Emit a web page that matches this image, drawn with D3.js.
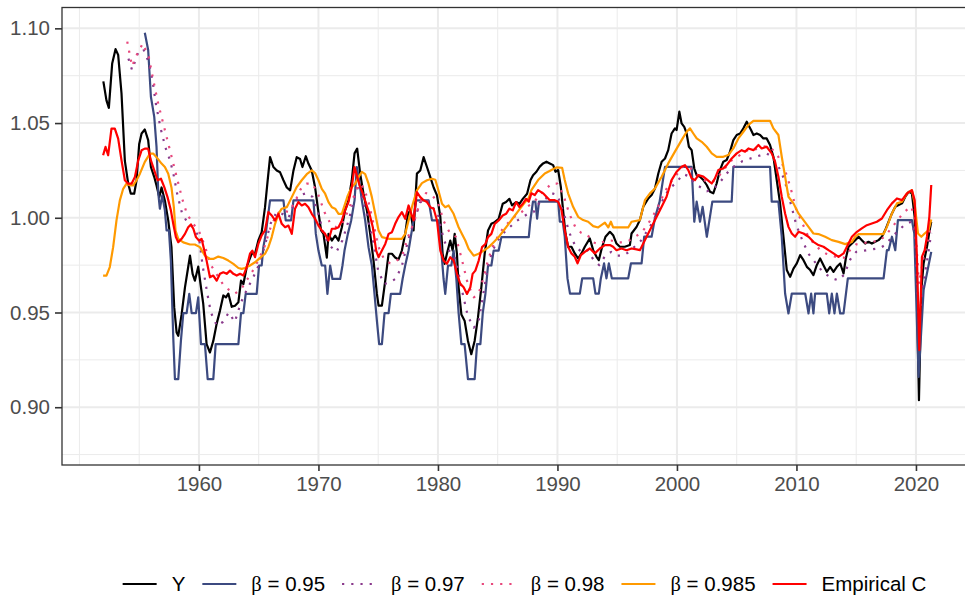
<!DOCTYPE html>
<meta charset="utf-8">
<script src="https://d3js.org/d3.v7.min.js"></script>
<style>
  body { margin: 0; background: #fff; }
  svg { display: block; font-family: "Liberation Sans", Arial, sans-serif; }
</style>
<div id="chart"></div>
<script>

// ---- data ----
const seriesNames = ["Y", "β = 0.95", "β = 0.97", "β = 0.98", "β = 0.985", "Empirical C"];
const seriesColors = ["#000000", "#3C4A80", "#8A3A8C", "#E8487C", "#FF9A00", "#FF0000"];
const seriesDotted = [false, false, true, true, false, false];

const xTicks = [1960, 1970, 1980, 1990, 2000, 2010, 2020];
const xMinor = [1950, 1955, 1965, 1975, 1985, 1995, 2005, 2015];
const yTicks = [0.90, 0.95, 1.00, 1.05, 1.10];
const yMinor = [0.875, 0.925, 0.975, 1.025, 1.075];

const yVals = [[1952.0,1.072],[1952.26,1.062],[1952.46,1.058],[1952.74,1.0815],[1953.02,1.089],[1953.24,1.086],[1953.52,1.0656],[1953.8,1.030],[1954.08,1.018],[1954.3,1.0127],[1954.58,1.0127],[1954.78,1.0198],[1955.0,1.039],[1955.2,1.0445],[1955.47,1.0466],[1955.75,1.041],[1955.98,1.0268],[1956.26,1.0215],[1956.45,1.017],[1956.68,1.011],[1956.87,1.016],[1957.15,1.009],[1957.43,0.9986],[1957.7,0.9845],[1957.93,0.9527],[1958.13,0.9395],[1958.27,0.9377],[1958.55,0.949],[1958.83,0.9633],[1959.1,0.974],[1959.25,0.980],[1959.47,0.9704],[1959.66,0.9668],[1959.94,0.9742],[1960.17,0.9633],[1960.36,0.9545],[1960.64,0.9333],[1960.92,0.9289],[1961.2,0.935],[1961.48,0.944],[1961.76,0.951],[1962.04,0.959],[1962.26,0.958],[1962.46,0.960],[1962.74,0.953],[1963.02,0.9536],[1963.3,0.9554],[1963.52,0.9668],[1963.72,0.965],[1964.0,0.974],[1964.19,0.9774],[1964.41,0.981],[1964.69,0.981],[1964.97,0.988],[1965.25,0.9924],[1965.53,1.0056],[1965.75,1.0198],[1965.95,1.032],[1966.23,1.0268],[1966.51,1.025],[1966.79,1.024],[1967.07,1.0198],[1967.35,1.016],[1967.63,1.0145],[1967.91,1.025],[1968.18,1.032],[1968.46,1.031],[1968.66,1.0268],[1968.94,1.0325],[1969.16,1.0286],[1969.44,1.025],[1969.72,1.016],[1969.94,1.0056],[1970.22,0.9933],[1970.42,0.9915],[1970.7,0.979],[1970.84,0.9915],[1971.12,0.988],[1971.4,0.9906],[1971.68,0.988],[1971.96,0.995],[1972.23,1.004],[1972.51,1.009],[1972.79,1.0198],[1973.02,1.034],[1973.24,1.0365],[1973.49,1.0233],[1973.77,1.0127],[1974.05,1.004],[1974.33,0.9915],[1974.61,0.9774],[1974.89,0.9598],[1975.03,0.9536],[1975.31,0.9536],[1975.59,0.9668],[1975.87,0.981],[1976.15,0.981],[1976.42,0.979],[1976.7,0.978],[1976.98,0.9827],[1977.26,0.9915],[1977.49,1.002],[1977.68,1.004],[1977.96,0.9933],[1978.24,1.0233],[1978.52,1.025],[1978.8,1.032],[1979.08,1.0268],[1979.36,1.0215],[1979.64,1.016],[1979.92,1.0118],[1980.2,1.0004],[1980.39,0.981],[1980.56,0.9757],[1980.75,0.981],[1981.03,0.988],[1981.23,0.9827],[1981.4,0.9915],[1981.59,0.981],[1981.73,0.9633],[1981.96,0.949],[1982.23,0.9457],[1982.51,0.935],[1982.79,0.928],[1983.07,0.935],[1983.35,0.9474],[1983.63,0.9633],[1983.91,0.981],[1984.19,0.9933],[1984.47,0.9968],[1984.75,0.9977],[1985.08,0.9995],[1985.42,1.0074],[1985.7,1.0083],[1985.98,1.010],[1986.2,1.0065],[1986.54,1.0083],[1986.82,1.0074],[1987.1,1.010],[1987.46,1.0127],[1987.74,1.0198],[1987.96,1.0225],[1988.24,1.0243],[1988.52,1.027],[1988.8,1.0287],[1989.08,1.0296],[1989.36,1.0287],[1989.64,1.0278],[1989.83,1.0243],[1990.06,1.0252],[1990.28,1.0164],[1990.47,1.004],[1990.67,0.9917],[1990.89,0.9847],[1991.17,0.9847],[1991.45,0.9812],[1991.73,0.9785],[1992.01,0.9812],[1992.29,0.9847],[1992.71,0.9891],[1992.99,0.9829],[1993.27,0.9794],[1993.46,0.9776],[1993.74,0.9847],[1994.02,0.99],[1994.39,0.9926],[1994.66,0.9908],[1994.94,0.9864],[1995.22,0.9847],[1995.64,0.9847],[1996.06,0.9856],[1996.2,0.9917],[1996.62,0.9952],[1996.9,0.9988],[1997.18,1.0058],[1997.6,1.0102],[1997.88,1.012],[1998.16,1.0155],[1998.44,1.0234],[1998.72,1.0296],[1999.0,1.0313],[1999.27,1.0357],[1999.55,1.0445],[1999.83,1.0472],[1999.97,1.0463],[2000.2,1.056],[2000.39,1.0498],[2000.61,1.048],[2000.81,1.0445],[2001.0,1.0375],[2001.23,1.0357],[2001.45,1.026],[2001.65,1.0225],[2001.93,1.0217],[2002.21,1.0199],[2002.49,1.0173],[2002.77,1.0137],[2003.04,1.0129],[2003.32,1.0181],[2003.6,1.0252],[2003.88,1.0296],[2004.16,1.0305],[2004.44,1.0349],[2004.72,1.041],[2005.0,1.0437],[2005.28,1.0445],[2005.56,1.0472],[2005.84,1.0507],[2005.98,1.049],[2006.2,1.0463],[2006.4,1.0437],[2006.68,1.0445],[2006.96,1.0437],[2007.23,1.0419],[2007.51,1.0419],[2007.79,1.0384],[2008.07,1.0322],[2008.35,1.0199],[2008.63,1.0076],[2008.91,0.99],[2009.19,0.9724],[2009.47,0.9688],[2009.75,0.9732],[2010.03,0.9759],[2010.31,0.9803],[2010.59,0.9776],[2010.87,0.9741],[2011.15,0.9724],[2011.42,0.9697],[2011.7,0.975],[2011.98,0.9785],[2012.26,0.975],[2012.54,0.9715],[2012.82,0.9741],[2013.1,0.9715],[2013.38,0.9741],[2013.66,0.9759],[2013.94,0.9706],[2014.13,0.9785],[2014.36,0.9847],[2014.64,0.9864],[2014.92,0.9882],[2015.2,0.99],[2015.47,0.9882],[2015.75,0.9864],[2016.03,0.9873],[2016.31,0.9864],[2016.59,0.9873],[2016.87,0.9882],[2017.15,0.99],[2017.43,0.9935],[2017.71,0.9979],[2017.99,1.0023],[2018.27,1.0058],[2018.55,1.0067],[2018.83,1.0076],[2019.11,1.0111],[2019.39,1.0137],[2019.66,1.0129],[2019.89,1.0005],[2020.08,0.9618],[2020.25,0.9037],[2020.45,0.9618],[2020.64,0.9759],[2020.92,0.9847],[2021.12,0.9926],[2021.28,0.9979]];

const b950Vals = [[1955.47,1.0977],[1955.75,1.0886],[1955.98,1.0639],[1956.26,1.0533],[1956.45,1.0374],[1956.6,1.0127],[1956.73,1.0048],[1956.93,1.0118],[1957.15,1.0039],[1957.29,0.9933],[1957.49,0.9933],[1957.65,0.9774],[1957.85,0.9368],[1957.99,0.9148],[1958.27,0.9148],[1958.49,0.935],[1958.69,0.9497],[1958.97,0.9497],[1959.19,0.9598],[1959.39,0.9497],[1959.75,0.9497],[1959.94,0.958],[1960.17,0.9333],[1960.5,0.9333],[1960.73,0.9148],[1961.2,0.9148],[1961.4,0.9333],[1963.3,0.9333],[1963.52,0.9497],[1963.72,0.9497],[1963.91,0.9598],[1964.83,0.9598],[1965.03,0.9748],[1965.25,0.9748],[1965.39,0.9845],[1965.59,0.9915],[1965.75,0.9995],[1965.95,1.0092],[1967.07,1.0092],[1967.26,0.9986],[1967.71,0.9986],[1967.91,1.0092],[1969.58,1.0092],[1969.78,0.9915],[1970.0,0.9827],[1970.28,0.9748],[1970.56,0.9748],[1970.75,0.9598],[1970.98,0.9748],[1971.17,0.9677],[1971.82,0.9677],[1972.01,0.9748],[1972.18,0.9827],[1972.46,0.9915],[1972.74,0.9986],[1973.02,1.0092],[1973.21,1.0268],[1973.41,1.0198],[1973.63,1.0092],[1973.91,0.9986],[1974.19,0.9845],[1974.47,0.9748],[1974.69,0.9598],[1974.89,0.9457],[1975.08,0.9333],[1975.31,0.9333],[1975.53,0.9497],[1975.87,0.9497],[1976.06,0.9598],[1976.84,0.9598],[1977.04,0.9677],[1977.26,0.9748],[1977.54,0.9827],[1977.77,0.9915],[1977.96,0.9986],[1978.18,1.0092],[1979.22,1.0092],[1979.5,0.9986],[1980.06,0.9986],[1980.28,0.9827],[1980.47,0.9677],[1980.61,0.9598],[1980.84,0.9748],[1981.12,0.9748],[1981.31,0.9827],[1981.54,0.9677],[1981.73,0.9497],[1981.96,0.9333],[1982.23,0.9333],[1982.51,0.9148],[1983.07,0.9148],[1983.27,0.9333],[1983.55,0.9333],[1983.75,0.9497],[1983.97,0.9598],[1984.19,0.9748],[1984.47,0.9748],[1984.66,0.9827],[1985.08,0.9827],[1985.31,0.9898],[1987.6,0.9898],[1987.72,0.9979],[1987.95,1.0085],[1988.15,1.0085],[1988.3,0.9996],[1988.45,1.0085],[1990.06,1.0085],[1990.2,0.9979],[1990.45,0.9979],[1990.61,0.990],[1990.84,0.968],[1991.05,0.960],[1991.87,0.960],[1992.07,0.968],[1992.99,0.968],[1993.18,0.960],[1993.46,0.960],[1993.63,0.968],[1993.9,0.9759],[1994.1,0.968],[1994.3,0.9759],[1994.55,0.968],[1995.92,0.968],[1996.15,0.9759],[1997.04,0.9759],[1997.26,0.990],[1997.88,0.990],[1998.16,1.000],[1998.55,1.0085],[1999.0,1.0269],[2001.23,1.0269],[2001.45,0.9979],[2001.65,1.0085],[2001.93,0.9979],[2002.15,1.0058],[2002.5,0.990],[2002.96,1.0085],[2004.58,1.0085],[2004.72,1.0269],[2007.79,1.0269],[2007.93,1.0085],[2008.49,1.0085],[2008.77,0.990],[2009.05,0.960],[2009.33,0.9495],[2009.61,0.960],[2010.73,0.960],[2011.01,0.9495],[2011.23,0.960],[2011.42,0.9495],[2011.56,0.960],[2012.54,0.960],[2012.74,0.9495],[2012.96,0.960],[2013.18,0.9495],[2013.38,0.960],[2013.66,0.9495],[2013.94,0.9495],[2014.3,0.968],[2017.29,0.968],[2017.57,0.9829],[2017.71,0.9829],[2017.99,0.990],[2018.27,0.9829],[2018.49,0.9988],[2019.66,0.9988],[2019.86,0.9917],[2020.22,0.916],[2020.64,0.9618],[2021.28,0.982]];

const b970Vals = [[1954.1,1.084],[1954.4,1.078],[1954.9,1.087],[1955.35,1.089],[1955.8,1.082],[1956.1,1.073],[1956.4,1.060],[1956.8,1.047],[1957.2,1.037],[1957.6,1.030],[1957.9,1.022],[1958.2,1.012],[1958.6,1.002],[1959.0,0.998],[1959.5,0.995],[1960.0,0.990],[1960.3,0.975],[1960.7,0.960],[1961.0,0.950],[1961.5,0.943],[1962.0,0.945],[1962.5,0.950],[1963.0,0.945],[1963.5,0.955],[1964.0,0.962],[1964.5,0.968],[1965.0,0.975],[1965.5,0.985],[1966.0,0.997],[1966.5,1.003],[1967.0,1.002],[1967.5,1.000],[1968.0,1.008],[1968.5,1.012],[1969.0,1.013],[1969.5,1.011],[1970.0,1.002],[1970.5,0.990],[1971.0,0.985],[1971.5,0.982],[1972.0,0.988],[1972.5,0.998],[1973.0,1.010],[1973.3,1.018],[1973.6,1.012],[1974.0,1.003],[1974.5,0.990],[1975.0,0.972],[1975.5,0.965],[1976.0,0.966],[1976.5,0.968],[1977.0,0.975],[1977.5,0.988],[1978.0,0.998],[1978.5,1.008],[1979.0,1.010],[1979.5,1.006],[1980.0,1.002],[1980.5,0.988],[1981.0,0.982],[1981.5,0.978],[1982.0,0.962],[1982.5,0.948],[1983.0,0.942],[1983.4,0.945],[1983.8,0.960],[1984.2,0.975],[1984.6,0.983],[1985.0,0.988],[1985.5,0.992],[1986.0,0.995],[1986.5,0.998],[1987.0,1.000],[1987.5,1.002],[1988.0,1.003],[1988.5,1.008],[1989.0,1.010],[1989.5,1.013],[1990.0,1.012],[1990.5,1.003],[1991.0,0.992],[1991.5,0.985],[1992.0,0.982],[1992.5,0.983],[1993.0,0.978],[1993.5,0.975],[1994.0,0.980],[1994.5,0.982],[1995.0,0.980],[1995.5,0.980],[1996.0,0.982],[1996.5,0.985],[1997.0,0.988],[1997.5,0.993],[1998.0,0.998],[1998.5,1.005],[1999.0,1.012],[1999.5,1.016],[2000.0,1.019],[2000.5,1.023],[2001.0,1.022],[2001.5,1.018],[2002.0,1.016],[2002.5,1.014],[2003.0,1.015],[2003.5,1.018],[2004.0,1.022],[2004.5,1.026],[2005.0,1.028],[2005.5,1.030],[2006.0,1.031],[2006.5,1.032],[2007.0,1.033],[2007.5,1.034],[2008.0,1.032],[2008.5,1.027],[2009.0,1.020],[2009.5,1.008],[2010.0,0.996],[2010.5,0.988],[2011.0,0.981],[2011.5,0.977],[2012.0,0.973],[2012.5,0.970],[2013.0,0.968],[2013.5,0.967],[2014.0,0.970],[2014.5,0.978],[2015.0,0.982],[2016.0,0.983],[2017.0,0.984],[2017.5,0.986],[2018.0,0.990],[2018.5,0.993],[2019.0,0.996],[2019.6,0.998],[2019.9,0.992],[2020.25,0.945],[2020.6,0.965],[2021.0,0.980],[2021.28,0.992]];

const b980Vals = [[1954.0,1.093],[1954.4,1.080],[1954.8,1.086],[1955.3,1.092],[1955.8,1.085],[1956.2,1.072],[1956.6,1.060],[1957.0,1.050],[1957.4,1.040],[1957.8,1.030],[1958.2,1.020],[1958.6,1.010],[1959.0,1.002],[1959.5,0.997],[1960.0,0.993],[1960.5,0.985],[1961.0,0.975],[1961.5,0.970],[1962.0,0.965],[1962.5,0.962],[1963.0,0.960],[1963.5,0.962],[1964.0,0.967],[1964.5,0.972],[1965.0,0.978],[1965.5,0.985],[1966.0,0.995],[1966.5,1.002],[1967.0,1.004],[1967.5,1.003],[1968.0,1.008],[1968.5,1.015],[1969.0,1.018],[1969.5,1.018],[1970.0,1.012],[1970.5,1.003],[1971.0,0.997],[1971.5,0.995],[1972.0,0.997],[1972.5,1.004],[1973.0,1.012],[1973.4,1.018],[1973.8,1.016],[1974.2,1.008],[1974.6,0.997],[1975.0,0.985],[1975.5,0.978],[1976.0,0.976],[1976.5,0.977],[1977.0,0.980],[1977.5,0.990],[1978.0,0.998],[1978.5,1.008],[1979.0,1.013],[1979.5,1.012],[1980.0,1.008],[1980.5,0.998],[1981.0,0.992],[1981.5,0.990],[1982.0,0.978],[1982.5,0.965],[1983.0,0.958],[1983.4,0.960],[1983.8,0.968],[1984.2,0.978],[1984.6,0.985],[1985.0,0.990],[1985.5,0.995],[1986.0,0.998],[1986.5,1.001],[1987.0,1.003],[1987.5,1.006],[1988.0,1.008],[1988.5,1.012],[1989.0,1.015],[1989.5,1.018],[1990.0,1.018],[1990.5,1.012],[1991.0,1.002],[1991.5,0.995],[1992.0,0.992],[1992.5,0.991],[1993.0,0.987],[1993.5,0.986],[1994.0,0.988],[1994.5,0.988],[1995.0,0.987],[1995.5,0.987],[1996.0,0.988],[1996.5,0.990],[1997.0,0.992],[1997.5,0.996],[1998.0,1.001],[1998.5,1.007],[1999.0,1.014],[1999.5,1.019],[2000.0,1.023],[2000.5,1.027],[2001.0,1.027],[2001.5,1.024],[2002.0,1.021],[2002.5,1.019],[2003.0,1.019],[2003.5,1.022],[2004.0,1.026],[2004.5,1.030],[2005.0,1.032],[2005.5,1.034],[2006.0,1.036],[2006.5,1.036],[2007.0,1.037],[2007.5,1.038],[2008.0,1.036],[2008.5,1.032],[2009.0,1.026],[2009.5,1.016],[2010.0,1.004],[2010.5,0.997],[2011.0,0.990],[2011.5,0.986],[2012.0,0.983],[2012.5,0.981],[2013.0,0.980],[2013.5,0.979],[2014.0,0.979],[2014.5,0.983],[2015.0,0.986],[2016.0,0.987],[2017.0,0.988],[2017.5,0.991],[2018.0,0.995],[2018.5,0.999],[2019.0,1.003],[2019.6,1.006],[2019.9,1.000],[2020.25,0.965],[2020.6,0.978],[2021.0,0.988],[2021.28,0.997]];

const b985Vals = [[1951.98,0.9695],[1952.26,0.9695],[1952.54,0.974],[1952.82,0.9845],[1953.1,0.9986],[1953.38,1.0092],[1953.66,1.0153],[1953.94,1.018],[1954.22,1.0171],[1954.5,1.0171],[1954.78,1.0198],[1955.06,1.0233],[1955.47,1.0295],[1955.9,1.0339],[1956.17,1.0339],[1956.45,1.032],[1956.87,1.0286],[1957.15,1.0268],[1957.43,1.0233],[1957.7,1.016],[1957.9,1.0056],[1958.04,0.9933],[1958.27,0.9889],[1958.69,0.987],[1959.25,0.9859],[1959.66,0.9859],[1960.08,0.9845],[1960.5,0.980],[1960.92,0.9783],[1961.2,0.9783],[1961.62,0.9795],[1962.04,0.9788],[1962.46,0.9774],[1962.88,0.9757],[1963.3,0.9735],[1963.58,0.973],[1963.85,0.9735],[1964.27,0.9748],[1964.69,0.9765],[1965.11,0.9788],[1965.53,0.981],[1965.81,0.9845],[1966.09,0.9898],[1966.37,0.9968],[1966.65,1.0021],[1966.93,1.0048],[1967.35,1.0056],[1967.77,1.0109],[1968.18,1.0162],[1968.6,1.0198],[1969.02,1.023],[1969.44,1.025],[1969.72,1.0236],[1970.0,1.0198],[1970.28,1.0153],[1970.56,1.0127],[1970.84,1.0083],[1971.12,1.0056],[1971.4,1.0048],[1971.68,1.0021],[1971.96,1.0021],[1972.18,1.0065],[1972.46,1.0118],[1972.79,1.0162],[1973.07,1.018],[1973.35,1.0215],[1973.63,1.0242],[1973.91,1.023],[1974.19,1.018],[1974.47,1.0109],[1974.75,1.0021],[1975.03,0.9933],[1975.31,0.9898],[1975.87,0.9889],[1976.42,0.9889],[1976.98,0.9889],[1977.26,0.9915],[1977.54,0.9986],[1977.82,1.0056],[1978.24,1.0145],[1978.66,1.0183],[1979.08,1.0198],[1979.5,1.0206],[1979.78,1.0201],[1980.0,1.0153],[1980.34,1.0074],[1980.61,1.0056],[1980.89,1.0065],[1981.31,1.0021],[1981.73,0.995],[1982.01,0.9915],[1982.29,0.988],[1982.57,0.9836],[1982.99,0.980],[1983.41,0.981],[1983.83,0.9827],[1984.25,0.9845],[1984.66,0.9871],[1985.08,0.9898],[1985.5,0.9933],[1985.92,0.9968],[1986.34,1.0004],[1986.76,1.0039],[1987.18,1.0074],[1987.6,1.0105],[1987.82,1.0146],[1988.38,1.0199],[1988.94,1.0234],[1989.5,1.0252],[1989.92,1.0266],[1990.39,1.0264],[1990.61,1.0199],[1990.89,1.0129],[1991.31,1.0058],[1991.73,1.0005],[1992.15,0.9988],[1992.57,0.9979],[1992.99,0.9956],[1993.41,0.9949],[1993.97,0.9974],[1994.25,0.9949],[1994.47,0.9979],[1994.66,0.9949],[1995.08,0.9949],[1995.92,0.9949],[1996.2,0.9979],[1996.9,0.9988],[1997.32,1.0093],[1997.74,1.0129],[1998.16,1.0155],[1998.72,1.0217],[1999.27,1.0287],[1999.83,1.0349],[2000.39,1.041],[2000.81,1.0454],[2001.09,1.0472],[2001.37,1.0445],[2001.65,1.0419],[2002.07,1.0401],[2002.49,1.0375],[2002.91,1.034],[2003.32,1.0322],[2003.88,1.0322],[2004.3,1.0331],[2004.72,1.0366],[2005.14,1.0419],[2005.56,1.0454],[2005.98,1.049],[2006.4,1.0512],[2007.79,1.0512],[2008.07,1.0472],[2008.49,1.0437],[2008.77,1.0322],[2009.05,1.0217],[2009.33,1.0111],[2009.75,1.0076],[2010.17,1.0023],[2010.59,0.9988],[2011.01,0.9952],[2011.42,0.9917],[2011.84,0.9914],[2012.4,0.99],[2012.96,0.9882],[2013.52,0.9873],[2014.08,0.9861],[2014.64,0.9873],[2014.92,0.99],[2015.2,0.9914],[2017.29,0.9914],[2017.57,0.9952],[2017.99,1.0023],[2018.41,1.0076],[2018.83,1.0085],[2019.25,1.0129],[2019.66,1.0146],[2019.89,1.0076],[2020.17,0.9917],[2020.45,0.990],[2020.73,0.9917],[2021.06,0.9935],[2021.28,0.9991]];

const empVals = [[1951.98,1.033],[1952.18,1.0374],[1952.4,1.033],[1952.68,1.0471],[1952.96,1.0471],[1953.24,1.0418],[1953.52,1.0303],[1953.8,1.0198],[1954.08,1.018],[1954.36,1.018],[1954.64,1.0215],[1954.92,1.0303],[1955.2,1.0356],[1955.47,1.0365],[1955.75,1.0365],[1955.98,1.0303],[1956.26,1.025],[1956.54,1.0198],[1956.82,1.0206],[1957.1,1.0162],[1957.37,1.0109],[1957.65,1.0039],[1957.85,0.9968],[1958.07,0.9898],[1958.27,0.9871],[1958.55,0.9889],[1958.83,0.9915],[1959.1,0.995],[1959.33,0.9965],[1959.53,0.9942],[1959.75,0.9898],[1960.0,0.988],[1960.22,0.9889],[1960.45,0.9827],[1960.64,0.9774],[1960.92,0.9686],[1961.2,0.9695],[1961.48,0.9668],[1961.76,0.9704],[1962.04,0.9712],[1962.32,0.9704],[1962.6,0.9721],[1962.88,0.9704],[1963.16,0.9695],[1963.44,0.9704],[1963.72,0.9695],[1964.0,0.974],[1964.27,0.981],[1964.47,0.9827],[1964.69,0.9792],[1964.97,0.9862],[1965.25,0.9907],[1965.53,0.9933],[1965.81,1.003],[1966.09,1.0012],[1966.37,0.9986],[1966.65,1.0021],[1966.93,0.9968],[1967.21,0.995],[1967.49,0.9959],[1967.77,0.9915],[1968.04,1.0048],[1968.32,1.0083],[1968.6,1.0065],[1968.88,1.0074],[1969.16,1.0056],[1969.44,1.0021],[1969.72,0.9995],[1970.0,0.9959],[1970.28,0.9933],[1970.56,0.9915],[1970.84,0.988],[1971.12,0.9942],[1971.4,0.9942],[1971.68,0.995],[1971.96,0.9986],[1972.23,1.0039],[1972.51,1.0083],[1972.79,1.0162],[1973.02,1.0268],[1973.21,1.0224],[1973.44,1.0171],[1973.72,1.0127],[1973.99,1.0074],[1974.27,1.0021],[1974.55,0.995],[1974.83,0.9827],[1975.03,0.9792],[1975.31,0.9827],[1975.59,0.9862],[1975.87,0.9915],[1976.15,0.9924],[1976.42,0.9968],[1976.7,1.0004],[1976.98,1.003],[1977.26,0.9995],[1977.54,1.0065],[1977.77,1.0021],[1977.96,0.9986],[1978.24,1.0136],[1978.52,1.0109],[1978.8,1.0092],[1979.08,1.0083],[1979.36,1.0056],[1979.64,1.0048],[1979.92,0.9986],[1980.2,0.9827],[1980.47,0.9774],[1980.75,0.9757],[1981.03,0.9792],[1981.31,0.9774],[1981.59,0.9704],[1981.87,0.9651],[1982.15,0.9633],[1982.43,0.9598],[1982.71,0.9633],[1982.9,0.9704],[1983.13,0.9721],[1983.41,0.9774],[1983.69,0.9845],[1983.97,0.9862],[1984.19,0.9898],[1984.47,0.9915],[1984.75,0.9968],[1985.08,0.9986],[1985.42,1.0012],[1985.7,1.0021],[1985.98,1.0048],[1986.26,1.0039],[1986.54,1.0083],[1986.82,1.0056],[1987.1,1.0074],[1987.37,1.010],[1987.6,1.0085],[1987.82,1.0129],[1988.1,1.012],[1988.38,1.0146],[1988.8,1.0129],[1989.08,1.0111],[1989.36,1.0093],[1989.78,1.0093],[1990.06,1.0085],[1990.34,1.004],[1990.61,0.9935],[1990.89,0.9847],[1991.17,0.9812],[1991.45,0.9794],[1991.68,0.9759],[1991.96,0.9803],[1992.29,0.982],[1992.71,0.9838],[1993.13,0.9812],[1993.55,0.9838],[1993.97,0.9856],[1994.39,0.9856],[1994.66,0.9847],[1994.94,0.9829],[1995.36,0.9838],[1995.78,0.9829],[1996.2,0.9838],[1996.62,0.9833],[1996.9,0.9829],[1997.18,0.9864],[1997.46,0.99],[1997.88,0.9952],[1998.3,1.0005],[1998.72,1.0058],[1999.13,1.0111],[1999.55,1.0199],[1999.97,1.0243],[2000.39,1.0269],[2000.67,1.0278],[2000.95,1.0252],[2001.23,1.0208],[2001.51,1.0199],[2001.79,1.0225],[2002.21,1.0217],[2002.57,1.0199],[2002.91,1.0181],[2003.18,1.0208],[2003.46,1.0252],[2003.88,1.0261],[2004.16,1.0278],[2004.58,1.0313],[2005.0,1.034],[2005.42,1.0357],[2005.7,1.0349],[2005.98,1.0366],[2006.4,1.0357],[2006.82,1.0384],[2007.09,1.0366],[2007.51,1.0375],[2007.93,1.034],[2008.21,1.0296],[2008.49,1.0217],[2008.77,1.0111],[2009.05,1.0023],[2009.33,0.9952],[2009.61,0.9917],[2009.89,0.99],[2010.17,0.9926],[2010.59,0.9917],[2011.01,0.99],[2011.42,0.9873],[2011.84,0.9856],[2012.26,0.9847],[2012.68,0.9829],[2013.1,0.9812],[2013.52,0.9794],[2013.94,0.9812],[2014.22,0.9847],[2014.64,0.99],[2015.06,0.9926],[2015.47,0.9944],[2015.89,0.9961],[2016.31,0.997],[2016.73,0.9979],[2017.15,0.9996],[2017.57,1.004],[2017.99,1.0076],[2018.41,1.0102],[2018.83,1.0093],[2019.25,1.0129],[2019.66,1.0146],[2019.89,1.0093],[2020.08,0.9794],[2020.28,0.9301],[2020.5,0.9794],[2020.73,0.9829],[2020.92,0.99],[2021.12,1.0005],[2021.28,1.0173]];

const seriesValues = [yVals, b950Vals, b970Vals, b980Vals, b985Vals, empVals];

// ---- layout ----
const width = 965, height = 595;
const panel = {left: 62, right: 972.6, top: 7.5, bottom: 465};
const fontSize = "20.5px";

const svg = d3.select("#chart").append("svg")
    .attr("width", width)
    .attr("height", height);

const x = d3.scaleLinear().domain([1948.54, 2024.74]).range([panel.left, panel.right]);
const y = d3.scaleLinear().domain([0.8695, 1.111]).range([panel.bottom, panel.top]);

// grid
const grid = svg.append("g");
grid.selectAll(".xminor").data(xMinor).join("line")
    .attr("x1", d => x(d)).attr("x2", d => x(d))
    .attr("y1", panel.top).attr("y2", panel.bottom)
    .attr("stroke", "#EBEBEB").attr("stroke-width", 1);
grid.selectAll(".yminor").data(yMinor).join("line")
    .attr("x1", panel.left).attr("x2", panel.right)
    .attr("y1", d => y(d)).attr("y2", d => y(d))
    .attr("stroke", "#EBEBEB").attr("stroke-width", 1);
grid.selectAll(".xmajor").data(xTicks).join("line")
    .attr("x1", d => x(d)).attr("x2", d => x(d))
    .attr("y1", panel.top).attr("y2", panel.bottom)
    .attr("stroke", "#EBEBEB").attr("stroke-width", 2);
grid.selectAll(".ymajor").data(yTicks).join("line")
    .attr("x1", panel.left).attr("x2", panel.right)
    .attr("y1", d => y(d)).attr("y2", d => y(d))
    .attr("stroke", "#EBEBEB").attr("stroke-width", 2);

// series lines, drawn in legend order
const line = d3.line().x(d => x(d[0])).y(d => y(d[1]));
svg.append("clipPath").attr("id", "clip").append("rect")
    .attr("x", panel.left).attr("y", panel.top)
    .attr("width", panel.right - panel.left).attr("height", panel.bottom - panel.top);

svg.append("g").attr("clip-path", "url(#clip)")
  .selectAll("path")
  .data(seriesValues)
  .join("path")
    .attr("d", line)
    .attr("fill", "none")
    .attr("stroke", (d, i) => seriesColors[i])
    .attr("stroke-width", 2.2)
    .attr("stroke-linejoin", "round")
    .attr("stroke-dasharray", (d, i) => seriesDotted[i] ? "2.2,7" : null);

// panel border
svg.append("rect")
    .attr("x", panel.left).attr("y", panel.top)
    .attr("width", panel.right - panel.left).attr("height", panel.bottom - panel.top)
    .attr("fill", "none").attr("stroke", "#333333").attr("stroke-width", 1.3);

// axes
const xAxis = d3.axisBottom(x).tickValues(xTicks).tickFormat(d3.format("d")).tickSize(6).tickPadding(5);
const yAxis = d3.axisLeft(y).tickValues(yTicks).tickFormat(d3.format(".2f")).tickSize(7).tickPadding(5);

const gx = svg.append("g").attr("transform", `translate(0,${panel.bottom})`).call(xAxis);
const gy = svg.append("g").attr("transform", `translate(${panel.left},0)`).call(yAxis);
[gx, gy].forEach(g => {
  g.select(".domain").remove();
  g.selectAll(".tick line").attr("stroke", "#333333").attr("stroke-width", 1.6);
  g.selectAll(".tick text")
    .attr("fill", "#4D4D4D")
    .style("font-size", fontSize)
    .style("font-family", "'Liberation Sans', Arial, sans-serif");
});

// legend at the bottom
const legend = svg.append("g");
const keyW = 34, keyGap = 15, itemGap = 17, legendY = 584;
let cursor = 0;
seriesNames.forEach((name, i) => {
  const g = legend.append("g");
  g.append("line")
    .attr("x1", 0).attr("x2", keyW).attr("y1", 0).attr("y2", 0)
    .attr("stroke", seriesColors[i]).attr("stroke-width", 2.2)
    .attr("stroke-dasharray", seriesDotted[i] ? "2.2,7" : null);
  const t = g.append("text")
    .attr("x", keyW + keyGap).attr("y", 0)
    .attr("dy", "0.36em")
    .style("font-size", fontSize)
    .attr("fill", "#000");
  if (name.startsWith("β")) {
    t.append("tspan").style("font-family", "'Liberation Serif', 'DejaVu Serif', serif").text("β");
    t.append("tspan").text(name.slice(1));
  } else {
    t.text(name);
  }
  const w = keyW + keyGap + t.node().getComputedTextLength();
  g.attr("transform", `translate(${cursor},${legendY})`);
  cursor += w + itemGap;
});
const totalW = cursor - itemGap;
legend.attr("transform", `translate(${524.5 - totalW / 2},0)`);

</script>
